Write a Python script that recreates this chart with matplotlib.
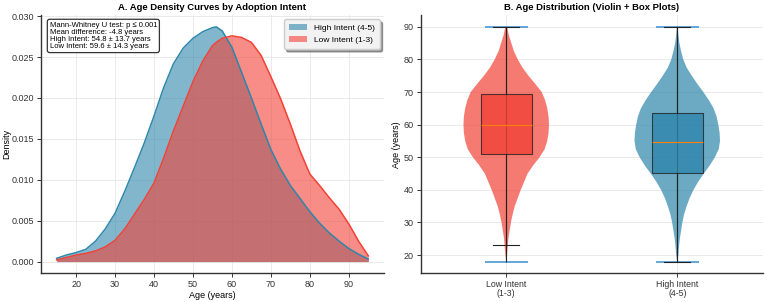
import matplotlib
matplotlib.use("Agg")
import matplotlib.pyplot as plt
import numpy as np

plt.rcParams['font.family'] = ['Liberation Sans', 'DejaVu Sans']

# ---- Panel A data: density curves ----
ages = [15, 17.5, 20, 22.5, 25, 27.5, 30, 32.5, 35, 37.5, 40, 42.5, 45, 47.5, 50,
        52.5, 55, 56, 57.5, 60, 62.5, 65, 67.5, 70, 72.5, 75, 77.5, 80, 82.5,
        85, 87.5, 90, 92.5, 95]
high_density = [0.0004, 0.0008, 0.0011, 0.0015, 0.0025, 0.0040, 0.0059, 0.0086,
                0.0115, 0.0145, 0.0178, 0.0213, 0.0242, 0.0261, 0.0273, 0.0281,
                0.0286, 0.0287, 0.0282, 0.0262, 0.0231, 0.0200, 0.0168, 0.0137,
                0.0113, 0.0093, 0.0077, 0.0061, 0.0047, 0.0035, 0.0025, 0.0016,
                0.0009, 0.0003]
low_density = [0.0002, 0.0005, 0.0008, 0.0010, 0.0013, 0.0018, 0.0026, 0.0040,
               0.0058, 0.0076, 0.0096, 0.0127, 0.0160, 0.0190, 0.0220, 0.0245,
               0.0264, 0.0268, 0.0273, 0.0276, 0.0274, 0.0268, 0.0252, 0.0226,
               0.0199, 0.0168, 0.0135, 0.0107, 0.0093, 0.0078, 0.0064, 0.0046,
               0.0025, 0.0007]
stats_text = ["Mann-Whitney U test: p \u2264 0.001",
              "Mean difference: -4.8 years",
              "High Intent: 54.8 \u00b1 13.7 years",
              "Low Intent: 59.6 \u00b1 14.3 years"]

# ---- Panel B data: violin + box ----
groups = ["Low Intent\n(1-3)", "High Intent\n(4-5)"]
violin_ages = [18, 20, 22.5, 25, 27.5, 30, 32.5, 35, 37.5, 40, 42.5, 45, 47.5, 50,
               52.5, 55, 57.5, 60, 62.5, 65, 67.5, 70, 72.5, 75, 77.5, 80, 82.5,
               85, 87.5, 90]
low_violin = [0.0, 0.02, 0.035, 0.05, 0.08, 0.11, 0.15, 0.20, 0.27, 0.34, 0.42,
              0.50, 0.63, 0.78, 0.90, 0.96, 0.99, 1.0, 0.99, 0.96, 0.91, 0.83,
              0.68, 0.52, 0.38, 0.27, 0.18, 0.12, 0.06, 0.02]
high_violin = [0.0, 0.025, 0.04, 0.06, 0.09, 0.12, 0.16, 0.22, 0.29, 0.38, 0.49,
               0.62, 0.76, 0.88, 0.97, 1.0, 0.99, 0.96, 0.92, 0.85, 0.74, 0.61,
               0.47, 0.34, 0.22, 0.14, 0.09, 0.05, 0.025, 0.01]
age_min = [18, 18]
age_max = [90, 90]
medians = [60.0, 54.7]
means = [59.6, 54.8]
q1 = [51.0, 45.2]
q3 = [69.5, 63.5]
whisker_lo = [23.0, 18.0]
whisker_hi = [90.0, 90.0]

BLUE = '#2E86AB'
RED = '#F24236'
SPINE = '#333333'

fig = plt.figure(figsize=(7.67, 3.02), dpi=100)
ax1 = fig.add_axes([0.0535, 0.095, 0.447, 0.855])
ax2 = fig.add_axes([0.5485, 0.095, 0.446, 0.855])

for ax in (ax1, ax2):
    ax.set_axisbelow(True)
    ax.grid(True, color='#e6e6e6', linewidth=0.6)
    for s in ('top', 'right'):
        ax.spines[s].set_visible(False)
    for s in ('left', 'bottom'):
        ax.spines[s].set_color(SPINE)
        ax.spines[s].set_linewidth(1.0)
    ax.tick_params(labelsize=6.5, length=3, width=0.7, colors=SPINE, pad=2)

# Panel A
ax1.fill_between(ages, high_density, color=BLUE, alpha=0.6, linewidth=0,
                 label='High Intent (4-5)')
ax1.plot(ages, high_density, color=BLUE, linewidth=1.1)
ax1.fill_between(ages, low_density, color=RED, alpha=0.6, linewidth=0,
                 label='Low Intent (1-3)')
ax1.plot(ages, low_density, color=RED, linewidth=1.1)
ax1.set_xticks([20, 30, 40, 50, 60, 70, 80, 90])
ax1.set_yticks([0.0, 0.005, 0.010, 0.015, 0.020, 0.025, 0.030])
ax1.yaxis.set_major_formatter(matplotlib.ticker.FormatStrFormatter('%.3f'))
ax1.set_xlabel('Age (years)', fontsize=6.5, labelpad=1.5)
ax1.set_ylabel('Density', fontsize=6.5)
ax1.yaxis.set_label_coords(-0.088, 0.5)
ax1.set_title('A. Age Density Curves by Adoption Intent', fontsize=6.8,
              fontweight='bold', pad=4)
leg = ax1.legend(loc='upper right', fontsize=6.0, frameon=True, fancybox=True,
                 shadow=True, handlelength=2.2, borderpad=0.6, labelspacing=0.5)
leg.get_frame().set_facecolor('#f2f2f2')
leg.get_frame().set_edgecolor('#cccccc')
ax1.text(0.025, 0.975, "\n".join(stats_text), transform=ax1.transAxes,
         fontsize=5.5, va='top', ha='left', linespacing=1.05,
         bbox=dict(boxstyle='round,pad=0.3', facecolor='white',
                   edgecolor=SPINE, linewidth=0.9))

# Panel B
positions = [1, 2]
vpstats = []
for vals, mn, md, lo, hi in [(low_violin, means[0], medians[0], age_min[0], age_max[0]),
                             (high_violin, means[1], medians[1], age_min[1], age_max[1])]:
    vpstats.append(dict(coords=np.array(violin_ages, dtype=float),
                        vals=np.array(vals, dtype=float),
                        mean=mn, median=md, min=lo, max=hi))
parts = ax2.violin(vpstats, positions=positions, widths=0.5,
                   showmeans=False, showextrema=True, showmedians=False)
for body, c in zip(parts['bodies'], [RED, BLUE]):
    body.set_facecolor(c)
    body.set_edgecolor('none')
    body.set_alpha(0.7)
parts['cbars'].set_color('#222222')
parts['cbars'].set_linewidth(0.8)
for k in ('cmins', 'cmaxes'):
    parts[k].set_color('#3a8fd0')
    parts[k].set_linewidth(1.1)

bxpstats = []
for i in range(2):
    bxpstats.append(dict(med=medians[i], q1=q1[i], q3=q3[i],
                         whislo=whisker_lo[i], whishi=whisker_hi[i], fliers=[]))
bp = ax2.bxp(bxpstats, positions=positions, widths=0.3, patch_artist=True,
             showfliers=False,
             boxprops=dict(edgecolor='#222222', linewidth=0.8),
             whiskerprops=dict(color='#222222', linewidth=0.8),
             capprops=dict(color='#222222', linewidth=0.8),
             medianprops=dict(color='#ff7f0e', linewidth=0.8))
for patch, c in zip(bp['boxes'], [RED, BLUE]):
    patch.set_facecolor(c)
    patch.set_alpha(0.8)

ax2.set_xlim(0.5, 2.5)
ax2.set_xticks(positions)
ax2.set_xticklabels(groups, fontsize=6.3, linespacing=1.0)
ax2.set_yticks([20, 30, 40, 50, 60, 70, 80, 90])
ax2.set_ylabel('Age (years)', fontsize=6.5)
ax2.yaxis.set_label_coords(-0.058, 0.5)
ax2.set_title('B. Age Distribution (Violin + Box Plots)', fontsize=6.8,
              fontweight='bold', pad=4)

fig.savefig('out.png', dpi=100)
